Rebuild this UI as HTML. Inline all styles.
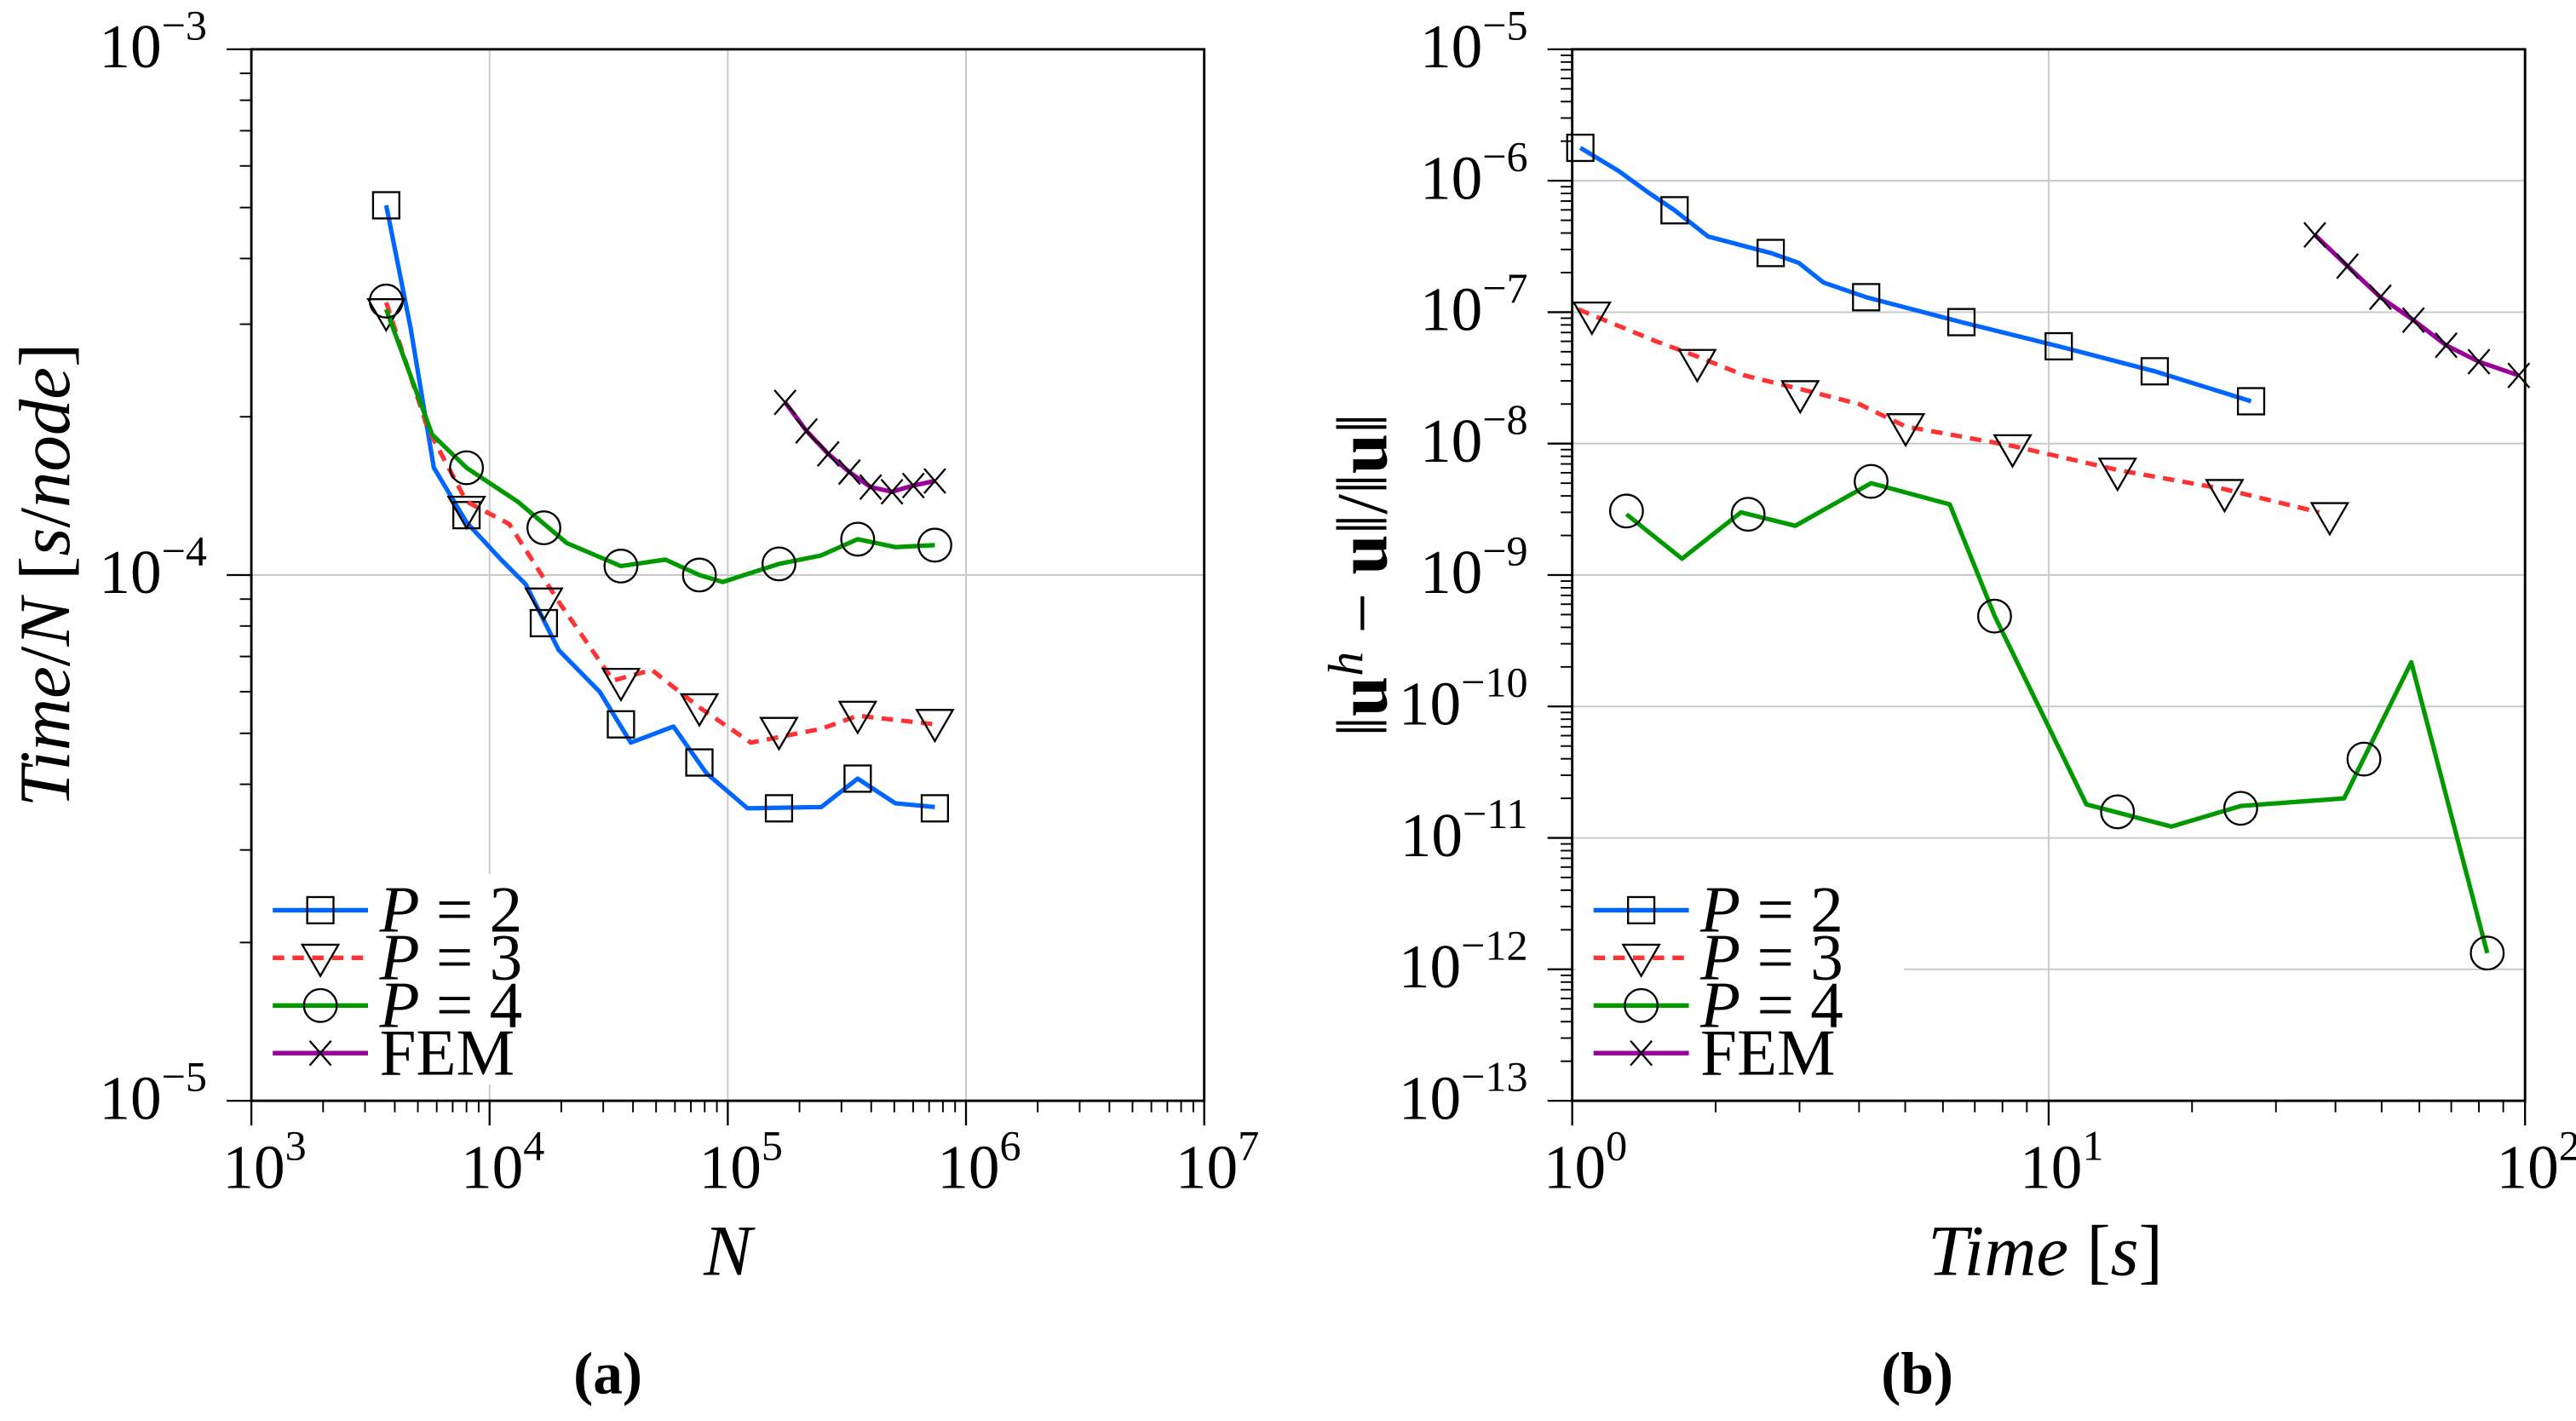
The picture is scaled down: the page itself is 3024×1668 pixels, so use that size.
<!DOCTYPE html>
<html><head><meta charset="utf-8"><style>
html,body{margin:0;padding:0;background:#fff;}
svg{display:block;font-family:"Liberation Serif","DejaVu Serif",serif;}
svg text{font-family:"Liberation Serif","DejaVu Serif",serif;fill:#000;}
</style></head><body>
<svg id="fig" width="3024" height="1668" viewBox="0 0 1568 864.9" xmlns="http://www.w3.org/2000/svg" font-family="Liberation Serif, serif"></svg>
<script>
// ---- Chart (a) data ----
const aP2N = [3681,4667,5834,8000,11170,14190,19500,28970,39170,59160,81280,121000,247000,351000,505000,740000];
const aP2V = [5.05e-4,2.94e-4,1.6e-4,1.26e-4,1.07e-4,9.6e-5,7.2e-5,6.0e-5,4.8e-5,5.15e-5,4.2e-5,3.6e-5,3.62e-5,4.1e-5,3.68e-5,3.62e-5];
const aP2MN = [3681,8000,16900,35600,76000,164000,351000,740000];
const aP2MV = [5.05e-4,1.3e-4,8.1e-5,5.2e-5,4.4e-5,3.6e-5,4.1e-5,3.6e-5];
const aP3N = [3681,5500,8000,12100,19500,33000,48000,76000,125000,247000,351000,740000];
const aP3V = [3.3e-4,1.9e-4,1.38e-4,1.25e-4,8.9e-5,6.3e-5,6.6e-5,5.6e-5,4.8e-5,5.1e-5,5.4e-5,5.2e-5];
const aP3MN = [3681,8000,16900,35600,76000,164000,351000,740000];
const aP3MV = [3.16e-4,1.33e-4,8.9e-5,6.26e-5,5.6e-5,5.05e-5,5.42e-5,5.23e-5];
const aP4N = [3681,5740,8000,13100,21100,35600,54700,76000,95300,164000,247000,351000,505000,740000];
const aP4V = [3.2e-4,1.85e-4,1.6e-4,1.38e-4,1.15e-4,1.04e-4,1.07e-4,1.0e-4,9.7e-5,1.05e-4,1.09e-4,1.17e-4,1.13e-4,1.14e-4];
const aP4MN = [3681,8000,16900,35600,76000,164000,351000,740000];
const aP4MV = [3.32e-4,1.6e-4,1.23e-4,1.04e-4,1.0e-4,1.05e-4,1.17e-4,1.14e-4];
const aFEMN = [174000,214000,264000,324000,398000,489000,601000,740000];
const aFEMV = [2.13e-4,1.88e-4,1.7e-4,1.57e-4,1.47e-4,1.44e-4,1.48e-4,1.51e-4];
const aXTicks = [3,4,5,6,7];
const aYTicks = [-3,-4,-5];
// ---- Chart (b) data ----
const bP2T = [1.04,1.25,1.44,1.64,1.93,2.61,2.99,3.37,4.14,6.56,10.5,16.7,26.6];
const bP2E = [1.78e-6,1.19e-6,8.2e-7,5.96e-7,3.76e-7,2.82e-7,2.37e-7,1.68e-7,1.3e-7,8.4e-8,5.5e-8,3.55e-8,2.1e-8];
const bP2MT = [1.04,1.64,2.61,4.14,6.56,10.5,16.7,26.6];
const bP2ME = [1.78e-6,5.96e-7,2.82e-7,1.3e-7,8.4e-8,5.5e-8,3.55e-8,2.1e-8];
const bP3T = [1.03,1.5,1.83,2.3,3.01,4.0,5.01,8.4,13.95,23.4,37];
const bP3E = [1.05e-7,6.0e-8,4.6e-8,3.3e-8,2.6e-8,2.0e-8,1.35e-8,9.6e-9,6.3e-9,4.5e-9,3.0e-9];
const bP3MT = [1.1,1.83,3.01,5.01,8.4,13.95,23.4,38.9];
const bP3ME = [9.4e-8,4.1e-8,2.37e-8,1.33e-8,9.2e-9,6.1e-9,4.2e-9,2.8e-9];
const bP4T = [1.3,1.70,2.26,2.94,4.24,6.2,7.7,12.0,18.1,25.3,41.7,57.7,83.3];
const bP4E = [2.9e-9,1.33e-9,3.0e-9,2.37e-9,5.0e-9,3.45e-9,4.9e-10,1.8e-11,1.22e-11,1.75e-11,2.0e-11,2.17e-10,1.33e-12];
const bP4MT = [1.3,2.34,4.24,7.7,13.95,25.3,45.9,83.3];
const bP4ME = [3.07e-9,2.9e-9,5.16e-9,4.87e-10,1.58e-11,1.68e-11,3.98e-11,1.33e-12];
const bFEMT = [36.2,42.4,49.7,58.3,68.3,80,97];
const bFEME = [3.87e-7,2.24e-7,1.3e-7,8.7e-8,5.6e-8,4.2e-8,3.3e-8];
const bXTicks = [0,1,2];
const bYTicks = [-5,-6,-7,-8,-9,-10,-11,-12,-13];

const NS = "http://www.w3.org/2000/svg";
const svg = document.getElementById('fig');
function mk(tag, attrs, parent){ const e=document.createElementNS(NS,tag); for(const k in attrs) e.setAttribute(k,attrs[k]); (parent||svg).appendChild(e); return e; }

function axes(x0,x1,y0,y1,xmin,xmax,ymin,ymax){
  const sx=v=>x0+(Math.log10(v)-xmin)/(xmax-xmin)*(x1-x0);
  const sy=v=>y1-(Math.log10(v)-ymin)/(ymax-ymin)*(y1-y0);
  return {sx,sy};
}

function drawPanel(p){
  const g=mk('g',{});
  
  
  const {x0,x1,y0,y1,xmin,xmax,ymin,ymax}=p;
  const {sx,sy}=axes(x0,x1,y0,y1,xmin,xmax,ymin,ymax);
  for(let d=xmin+1; d<xmax; d++){ const x=sx(Math.pow(10,d)); const l=mk('line',{x1:x,x2:x,y1:y0,y2:y1,stroke:'#c8c8c8','stroke-width':1},g);   }
  for(let d=ymin+1; d<ymax; d++){ const y=sy(Math.pow(10,d)); const l=mk('line',{x1:x0,x2:x1,y1:y,y2:y,stroke:'#c8c8c8','stroke-width':1},g);   }
  for(let d=xmin; d<=xmax; d++){
    const x=sx(Math.pow(10,d));
    const t=mk('line',{x1:x,x2:x,y1:y1,y2:y1+15,stroke:'#000','stroke-width':1.2},g);
     
    if(d<xmax) for(let m=2;m<10;m++){ const xm=sx(m*Math.pow(10,d)); const tm=mk('line',{x1:xm,x2:xm,y1:y1,y2:y1+7,stroke:'#000','stroke-width':1},g);   }
  }
  for(let d=ymin; d<=ymax; d++){
    const y=sy(Math.pow(10,d));
    const t=mk('line',{x1:x0-15,x2:x0,y1:y,y2:y,stroke:'#000','stroke-width':1.2},g);
     
    if(d<ymax) for(let m=2;m<10;m++){ const ym=sy(m*Math.pow(10,d)); const tm=mk('line',{x1:x0-7,x2:x0,y1:ym,y2:ym,stroke:'#000','stroke-width':1},g);   }
  }
  p.xt.forEach(d=>{
    const x=sx(Math.pow(10,d));
    const t=mk('text',{x:x+8,y:y1+53,'font-size':38,'text-anchor':'middle','font-family':'Liberation Serif, serif'},g);
     
    t.innerHTML='10<tspan dy="-17" font-size="26">'+d+'</tspan>';
  });
  p.yt.forEach(d=>{
    const y=sy(Math.pow(10,d));
    const t=mk('text',{x:x0-27,y:y+11,'font-size':38,'text-anchor':'end','font-family':'Liberation Serif, serif'},g);
     
    t.innerHTML='10<tspan dy="-17" font-size="26">\u2212'+(-d)+'</tspan>';
  });
  const f=mk('rect',{x:x0,y:y0,width:x1-x0,height:y1-y0,fill:'none',stroke:'#000','stroke-width':1.5},g);
   
  const lb=mk('rect',{x:x0+2,y:532,width:200,height:128,fill:'#fff'},g);
   
  const clip='clip-'+p.name;
  const cp=mk('clipPath',{id:clip},g); mk('rect',{x:x0,y:y0-2,width:x1-x0+2,height:y1-y0+4},cp);
  p.series.forEach(s=>{
    const pts=s.X.map((v,i)=>sx(v).toFixed(2)+','+sy(s.Y[i]).toFixed(2)).join(' ');
    const pl=mk('polyline',{points:pts,fill:'none',stroke:s.color,'stroke-width':2.7,'stroke-linejoin':'round','stroke-dasharray':s.dash||'none','clip-path':'url(#'+clip+')'},g);
     
    s.MX.forEach((v,i)=>{ const m=marker(g,s.marker,sx(v),sy(s.MY[i]));   });
  });
  const lx=x0+13, rows=[554,583,612,641];
  p.series.forEach((s,i)=>{
    const y=rows[i];
    const le=mk('g',{},g);  
    mk('line',{x1:lx,x2:lx+58,y1:y,y2:y,stroke:s.color,'stroke-width':2.8,'stroke-dasharray':s.dash||'none'},le);
    marker(le,s.marker,lx+29,y);
    const t=mk('text',{x:lx+65,y:y+13,'font-size':40,'font-family':'Liberation Serif, serif'},le);
    t.innerHTML=s.label;
  });
  return {sx,sy};
}
function marker(g,type,x,y){
  let e;
  if(type==='sq') e=mk('rect',{x:x-8,y:y-8,width:16,height:16,fill:'none',stroke:'#000','stroke-width':1.2},g);
  else if(type==='tri') e=mk('polygon',{points:(x-11)+','+(y-8)+' '+(x+11)+','+(y-8)+' '+x+','+(y+11),fill:'none',stroke:'#000','stroke-width':1.2},g);
  else if(type==='ci') e=mk('circle',{cx:x,cy:y,r:10,fill:'none',stroke:'#000','stroke-width':1.2},g);
  else e=mk('path',{d:'M'+(x-6.5)+' '+(y-7.5)+'L'+(x+6.5)+' '+(y+7.5)+'M'+(x+6.5)+' '+(y-7.5)+'L'+(x-6.5)+' '+(y+7.5),fill:'none',stroke:'#000','stroke-width':1.2},g);
  return e;
}
const P2='<tspan font-style="italic">P</tspan> = 2', P3='<tspan font-style="italic">P</tspan> = 3', P4='<tspan font-style="italic">P</tspan> = 4';
drawPanel({name:'panel-a',x0:153,x1:733,y0:30,y1:670,xmin:3,xmax:7,ymin:-5,ymax:-3,xt:aXTicks,yt:aYTicks,series:[
  {key:'p2',label:P2,color:'#0066ff',marker:'sq',X:aP2N,Y:aP2V,MX:aP2MN,MY:aP2MV},
  {key:'p3',label:P3,color:'#ff3333',dash:'7,5',marker:'tri',X:aP3N,Y:aP3V,MX:aP3MN,MY:aP3MV},
  {key:'p4',label:P4,color:'#009900',marker:'ci',X:aP4N,Y:aP4V,MX:aP4MN,MY:aP4MV},
  {key:'fem',label:'FEM',color:'#990099',marker:'x',X:aFEMN,Y:aFEMV,MX:aFEMN,MY:aFEMV}]});
drawPanel({name:'panel-b',x0:957,x1:1537,y0:30,y1:670,xmin:0,xmax:2,ymin:-13,ymax:-5,xt:bXTicks,yt:bYTicks,series:[
  {key:'p2',label:P2,color:'#0066ff',marker:'sq',X:bP2T,Y:bP2E,MX:bP2MT,MY:bP2ME},
  {key:'p3',label:P3,color:'#ff3333',dash:'7,5',marker:'tri',X:bP3T,Y:bP3E,MX:bP3MT,MY:bP3ME},
  {key:'p4',label:P4,color:'#009900',marker:'ci',X:bP4T,Y:bP4E,MX:bP4MT,MY:bP4ME},
  {key:'fem',label:'FEM',color:'#990099',marker:'x',X:bFEMT,Y:bFEME,MX:bFEMT,MY:bFEME}]});
</script>
<script>
(function(){
const s=document.getElementById('fig');
s.insertAdjacentHTML('beforeend',
'<text font-family="Liberation Serif, serif" transform="translate(42,350) rotate(-90)" text-anchor="middle" font-size="44"><tspan font-style="italic">Time</tspan>/<tspan font-style="italic">N</tspan> [<tspan font-style="italic">s</tspan>/<tspan font-style="italic">node</tspan>]</text>'+
'<text font-family="Liberation Serif, serif" x="443" y="776" text-anchor="middle" font-size="44" font-style="italic">N</text>'+
'<text font-family="Liberation Serif, serif" x="370" y="848" text-anchor="middle" font-size="36" font-weight="bold">(a)</text>'+
'<text font-family="Liberation Serif, serif" transform="translate(844,350) rotate(-90)" text-anchor="middle" font-size="44">‖<tspan font-weight="bold">u</tspan><tspan dy="-15" font-size="30" font-style="italic">h</tspan><tspan dy="15"> − </tspan><tspan font-weight="bold">u</tspan>‖/‖<tspan font-weight="bold">u</tspan>‖</text>'+
'<text font-family="Liberation Serif, serif" x="1245" y="776" text-anchor="middle" font-size="44"><tspan font-style="italic">Time</tspan> [<tspan font-style="italic">s</tspan>]</text>'+
'<text font-family="Liberation Serif, serif" x="1167" y="848" text-anchor="middle" font-size="36" font-weight="bold">(b)</text>');
})();
</script>
</body></html>
